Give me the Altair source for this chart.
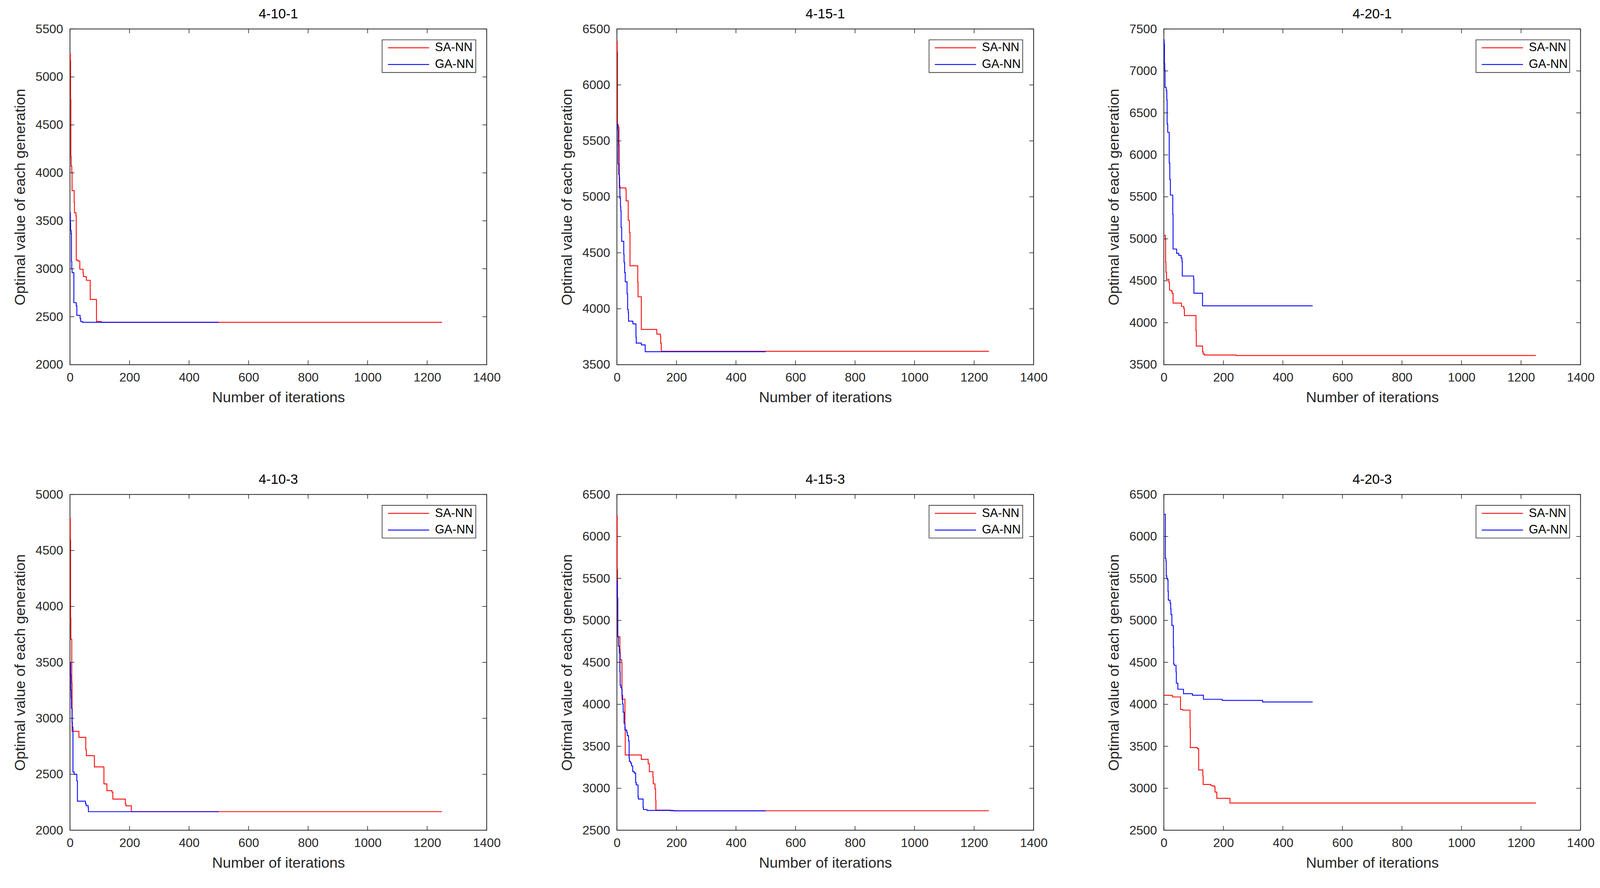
import altair as alt
import pandas as pd

FONT = "Liberation Sans"
AX = "#262626"
W, H = 1072, 864
TICK = 11

panel_titles = ["4-10-1", "4-15-1", "4-20-1", "4-10-3", "4-15-3", "4-20-3"]
y_domains = [(2000, 5500), (3500, 6500), (3500, 7500), (2000, 5000), (2500, 6500), (2500, 6500)]
x_ticks = [0, 200, 400, 600, 800, 1000, 1200, 1400]
series_names = ["SA-NN", "GA-NN"]
series_colors = ["#ff0000", "#0000ff"]

# 4-10-1
sa_x_1 = [0, 1, 2, 3, 4, 6, 7, 14, 15, 20, 21, 27, 33, 44, 45, 51, 55, 68, 89, 105, 1250]
sa_y_1 = [5240, 5170, 4760, 4170, 4070, 4010, 3815, 3690, 3585, 3550, 3090, 3080, 2995, 2955, 2920, 2915, 2880, 2680, 2450, 2442, 2442]
ga_x_1 = [0, 1, 2, 4, 5, 6, 7, 13, 21, 23, 34, 36, 42, 500]
ga_y_1 = [3585, 3480, 3400, 3365, 3077, 2998, 2960, 2647, 2614, 2514, 2481, 2449, 2442, 2442]

# 4-15-1
sa_x_2 = [0, 1, 2, 5, 7, 8, 30, 31, 38, 42, 44, 70, 71, 82, 134, 146, 147, 149, 1250]
sa_y_2 = [6390, 6295, 5640, 5620, 5465, 5080, 5062, 4964, 4790, 4682, 4384, 4237, 4107, 3815, 3773, 3757, 3693, 3620, 3620]
ga_x_2 = [0, 3, 4, 6, 8, 9, 10, 12, 13, 14, 16, 23, 24, 26, 28, 34, 36, 38, 39, 53, 54, 64, 65, 82, 95, 500]
ga_y_2 = [5650, 5603, 5295, 5199, 5172, 5096, 4986, 4912, 4874, 4726, 4603, 4485, 4413, 4323, 4241, 4133, 3995, 3967, 3889, 3881, 3865, 3745, 3693, 3677, 3616, 3616]

# 4-20-1
sa_x_3 = [0, 5, 6, 7, 9, 17, 19, 25, 28, 31, 59, 67, 69, 108, 109, 130, 132, 136, 243, 1250]
sa_y_3 = [5041, 4990, 4723, 4603, 4517, 4480, 4387, 4376, 4349, 4234, 4194, 4168, 4085, 3906, 3722, 3655, 3628, 3615, 3610, 3610]
ga_x_3 = [0, 1, 2, 3, 4, 8, 10, 11, 13, 18, 20, 22, 30, 31, 43, 50, 58, 61, 62, 100, 101, 130, 500]
ga_y_3 = [7372, 7321, 7089, 7009, 6803, 6766, 6656, 6368, 6269, 5903, 5706, 5521, 5294, 4878, 4827, 4803, 4771, 4729, 4557, 4517, 4352, 4202, 4202]

# 4-10-3
sa_x_4 = [0, 1, 2, 3, 6, 7, 30, 53, 55, 82, 114, 124, 141, 144, 186, 188, 206, 1250]
sa_y_4 = [4784, 4594, 3894, 3706, 3316, 2884, 2830, 2720, 2666, 2566, 2414, 2354, 2340, 2278, 2234, 2218, 2166, 2166]
ga_x_4 = [0, 2, 3, 4, 5, 7, 8, 10, 14, 23, 25, 52, 54, 61, 62, 500]
ga_y_4 = [3498, 3390, 3256, 3184, 3090, 2964, 2920, 2520, 2500, 2440, 2260, 2240, 2220, 2200, 2166, 2166]

# 4-15-3
sa_x_5 = [0, 1, 2, 10, 11, 16, 17, 27, 28, 82, 105, 109, 121, 122, 128, 130, 131, 180, 1250]
sa_y_5 = [6247, 5605, 4805, 4651, 4531, 4496, 4061, 3725, 3397, 3344, 3293, 3197, 3133, 3053, 2992, 2861, 2739, 2732, 2732]
ga_x_5 = [0, 1, 3, 5, 8, 10, 11, 13, 16, 17, 19, 21, 24, 27, 33, 35, 39, 41, 42, 46, 49, 53, 58, 63, 65, 71, 72, 88, 89, 101, 190, 500]
ga_y_5 = [5473, 5268, 4805, 4693, 4613, 4387, 4227, 4200, 4181, 4107, 4005, 3907, 3773, 3693, 3667, 3627, 3565, 3360, 3320, 3299, 3267, 3200, 3181, 3067, 3040, 2899, 2872, 2773, 2747, 2736, 2731, 2731]

# 4-20-3
sa_x_6 = [0, 29, 56, 63, 88, 89, 113, 117, 131, 132, 158, 163, 171, 172, 178, 222, 1250]
sa_y_6 = [4107, 4088, 3939, 3931, 3720, 3485, 3472, 3219, 3147, 3045, 3032, 3027, 3013, 2955, 2880, 2824, 2824]
ga_x_6 = [0, 5, 7, 8, 10, 12, 14, 15, 21, 23, 24, 27, 32, 33, 35, 41, 42, 47, 66, 96, 133, 196, 332, 500]
ga_y_6 = [6265, 5739, 5705, 5531, 5500, 5487, 5345, 5241, 5207, 5140, 5071, 4940, 4681, 4481, 4465, 4385, 4252, 4180, 4127, 4108, 4060, 4047, 4028, 4028]

panel_data = [
    (sa_x_1, sa_y_1, ga_x_1, ga_y_1),
    (sa_x_2, sa_y_2, ga_x_2, ga_y_2),
    (sa_x_3, sa_y_3, ga_x_3, ga_y_3),
    (sa_x_4, sa_y_4, ga_x_4, ga_y_4),
    (sa_x_5, sa_y_5, ga_x_5, ga_y_5),
    (sa_x_6, sa_y_6, ga_x_6, ga_y_6),
]

color_scale = alt.Scale(domain=series_names, range=series_colors)


def make_panel(title, data, ydom):
    sa_x, sa_y, ga_x, ga_y = data
    y_ticks = list(range(ydom[0], ydom[1] + 1, 500))
    xs = alt.Scale(domain=[0, 1400], nice=False, zero=False)
    ys = alt.Scale(domain=list(ydom), nice=False, zero=False)
    df_sa = pd.DataFrame({"iter": sa_x, "val": sa_y, "series": "SA-NN"})
    df_ga = pd.DataFrame({"iter": ga_x, "val": ga_y, "series": "GA-NN"})
    xaxis = alt.Axis(values=x_ticks, title="Number of iterations", labelFlush=False,
                     labelOverlap=False, labelPadding=18, titlePadding=17, format="d")
    yaxis = alt.Axis(values=y_ticks, title="Optimal value of each generation",
                     labelOverlap=False, labelPadding=18, titlePadding=19, format="d")
    legend = alt.Legend(title=None, orient="top-right", offset=28)

    def line(df):
        return alt.Chart(df).mark_line(interpolate="step-after", strokeWidth=2.2).encode(
            x=alt.X("iter:Q", scale=xs, axis=xaxis),
            y=alt.Y("val:Q", scale=ys, axis=yaxis),
            color=alt.Color("series:N", scale=color_scale, legend=legend),
        )

    xt = pd.DataFrame({"iter": x_ticks})
    yt = pd.DataFrame({"val": y_ticks})
    rule = dict(color=AX, strokeWidth=1.6)
    bottom = alt.Chart(xt).mark_rule(**rule).encode(
        x=alt.X("iter:Q", scale=xs, axis=xaxis), y=alt.value(H), y2=alt.value(H - TICK))
    top = alt.Chart(xt).mark_rule(**rule).encode(
        x=alt.X("iter:Q", scale=xs, axis=xaxis), y=alt.value(0), y2=alt.value(TICK))
    left = alt.Chart(yt).mark_rule(**rule).encode(
        y=alt.Y("val:Q", scale=ys, axis=yaxis), x=alt.value(0), x2=alt.value(TICK))
    right = alt.Chart(yt).mark_rule(**rule).encode(
        y=alt.Y("val:Q", scale=ys, axis=yaxis), x=alt.value(W), x2=alt.value(W - TICK))

    return alt.layer(line(df_sa), line(df_ga), bottom, top, left, right).properties(
        width=W, height=H,
        title=alt.TitleParams(title, fontSize=35, fontWeight="normal", color="black",
                              font=FONT, offset=4),
    )


panels = [make_panel(t, d, yd) for t, d, yd in zip(panel_titles, panel_data, y_domains)]


def row(ps):
    return alt.hconcat(*ps, spacing=150).resolve_scale(color="independent").resolve_legend(color="independent")


chart = alt.vconcat(row(panels[:3]), row(panels[3:]), spacing=173).resolve_scale(
    color="independent"
).resolve_legend(
    color="independent"
).properties(
    padding={"left": 24, "top": 5, "right": 5, "bottom": 5},
    background="white",
).configure_view(
    stroke=AX, strokeWidth=2,
).configure_axis(
    domain=False, ticks=False, grid=False,
    labelFont=FONT, labelFontSize=32, labelColor=AX,
    titleFont=FONT, titleFontSize=38, titleFontWeight="normal", titleColor=AX,
).configure_legend(
    labelFont=FONT, labelFontSize=31, labelColor="black",
    symbolType="M-0.53,0H9.47", symbolSize=450, symbolStrokeWidth=2.2,
    strokeColor=AX, strokeWidth=1.6, fillColor="white", padding=5, rowPadding=11,
    labelOffset=100, cornerRadius=0,
).configure_title(font=FONT)

chart.save("out.html", embed_options={"renderer": "svg", "actions": False})
